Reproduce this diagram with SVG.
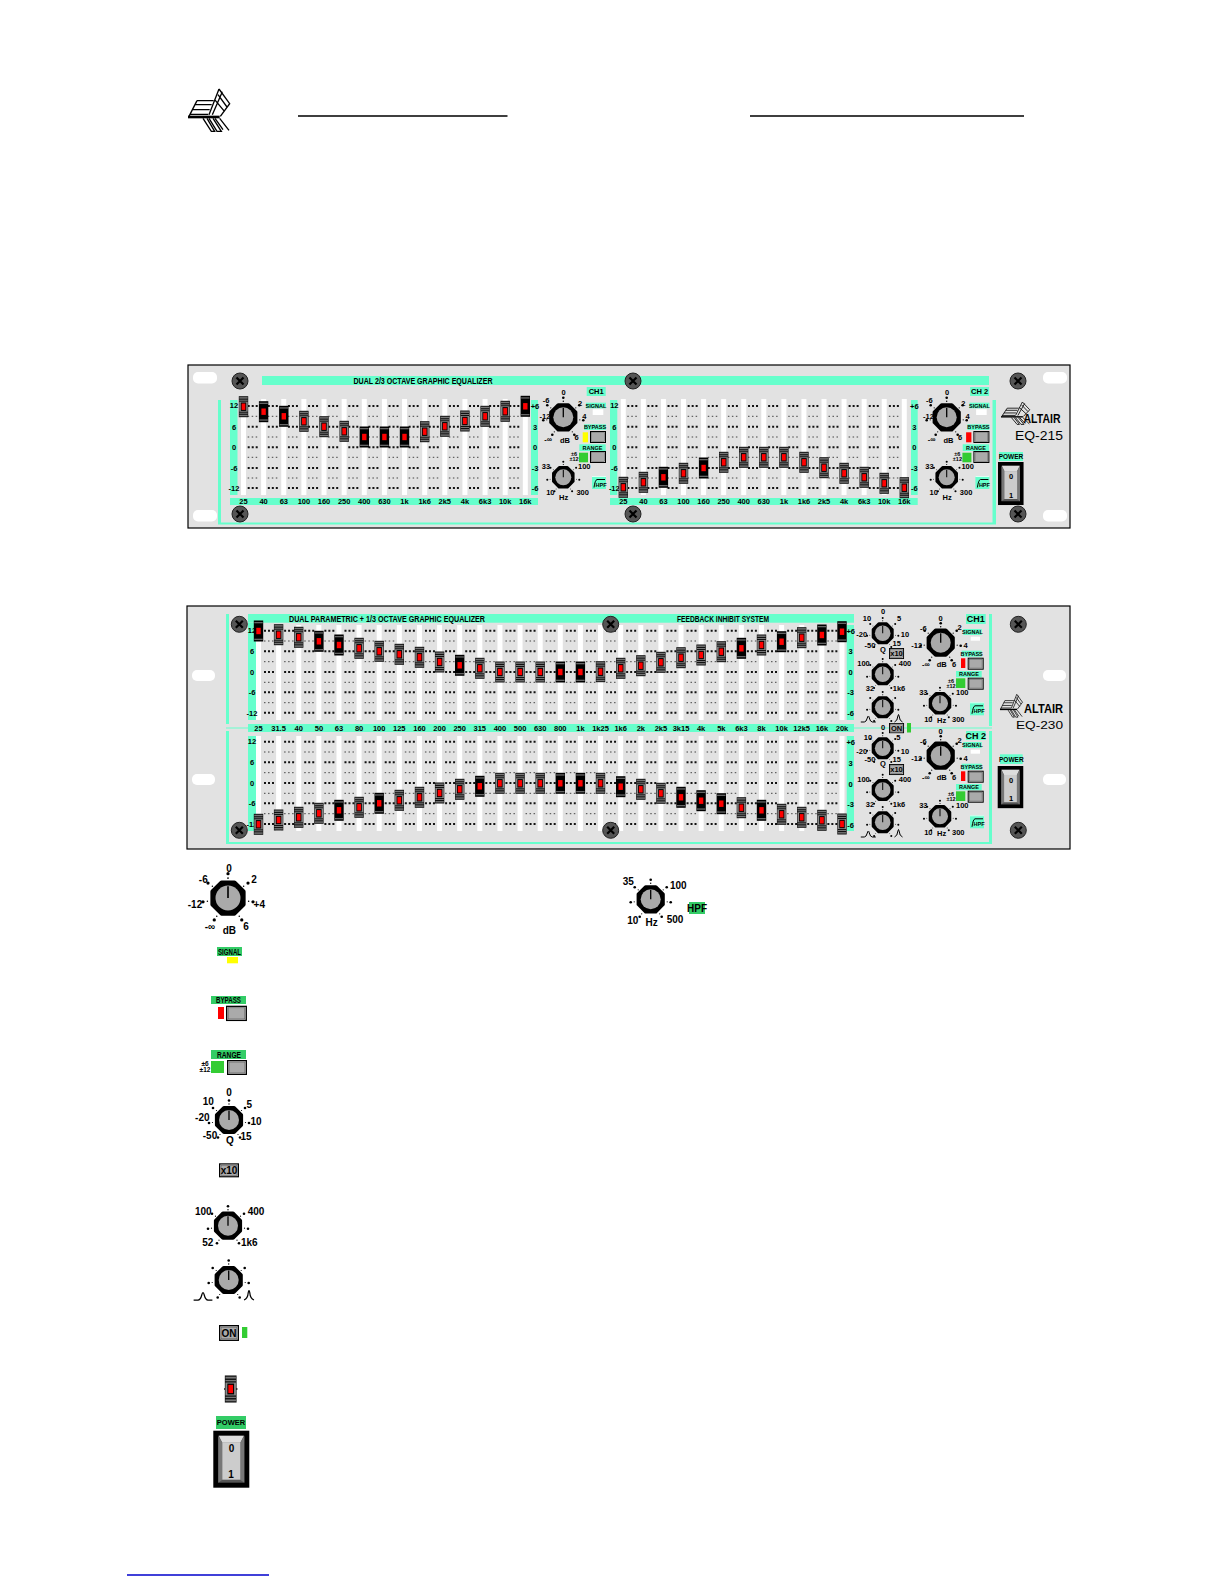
<svg xmlns="http://www.w3.org/2000/svg" width="1225" height="1585" viewBox="0 0 1225 1585">
<style>
text{font-family:"Liberation Sans Narrow","Liberation Sans",Arial,sans-serif;font-weight:700;fill:#000;text-anchor:middle;dominant-baseline:central}
.a{font-size:7.5px}
.b{font-size:10px}
.m{font-size:6.5px}
.x{font-size:5.5px}
.l{fill:#6fc}
.n{fill:#3c6}
.p{fill:#e2e2e2;stroke:#000;stroke-width:1.2}
.h{fill:#fff}
.slot{stroke:#fff;fill:none}
.d1{stroke:#111;stroke-width:2;stroke-dasharray:2 2 2 2 2 10.12;fill:none}
.d2{stroke:#444;stroke-width:1;stroke-dasharray:1.5 2.5 1.5 2.5 1.5 10.62;fill:none}
.bi{fill:none;stroke:#000;stroke-width:1}
.rule{stroke:#000;stroke-width:1.5}
.logo{fill:none;stroke:#000;stroke-width:4}
</style>
<defs>
<g id="s"><rect x="-4.7" y="-10.5" width="9.4" height="21" fill="#000"/><rect x="-4.2" y="-9" width="8.4" height="1.3" fill="#666"/><rect x="-4.2" y="7.7" width="8.4" height="1.3" fill="#666"/><rect x="-2.2" y="-3.2" width="4.4" height="6.4" fill="#f00"/></g>
<g id="g"><rect x="-4.7" y="-10.5" width="9.4" height="21" fill="#111"/><rect x="-4.2" y="-9.5" width="8.4" height="1.4" fill="#777"/><rect x="-4.2" y="-7" width="8.4" height="1" fill="#777"/><rect x="-4.2" y="6" width="8.4" height="1" fill="#777"/><rect x="-4.2" y="8.1" width="8.4" height="1.4" fill="#777"/><rect x="-4.2" y="-5" width="8.4" height="10" fill="#888"/><rect x="-2.7" y="-4.2" width="5.4" height="8.4" fill="#000"/><rect x="-1.9" y="-3.2" width="3.8" height="6.4" fill="#f00"/></g>
<g id="k"><polygon points="12.4,5.1 5.1,12.4 -5.1,12.4 -12.4,5.1 -12.4,-5.1 -5.1,-12.4 5.1,-12.4 12.4,-5.1" fill="#000" stroke="#000" stroke-width="3.4" stroke-linejoin="round"/><circle r="10" fill="#aaa"/><path d="M0 0V-9.5" stroke="#000" stroke-width="1.3"/><g fill="#000"><circle cy="-19.5" r="1.3"/><circle cy="-16" r=".7"/><circle cx="-16" cy="-12" r="1.3"/><circle cx="16" cy="-12" r="1.3"/><circle cx="-12.5" cy="-9.5" r=".6"/><circle cx="12.5" cy="-9.5" r=".6"/><circle cx="-20" cy="3" r="1.3"/><circle cx="20" cy="3" r="1.3"/><circle cx="-16.5" cy="2.5" r=".6"/><circle cx="16.5" cy="2.5" r=".6"/><circle cx="-11" cy="17.5" r="1.3"/><circle cx="11" cy="17.5" r="1.3"/><circle cx="-9" cy="14.5" r=".6"/><circle cx="9" cy="14.5" r=".6"/></g></g>
<g id="sc"><circle r="8" fill="#555" stroke="#222"/><path d="M-3.5 -3.5L3.5 3.5M3.5 -3.5L-3.5 3.5" stroke="#000" stroke-width="2.2"/></g>
<g id="btn"><rect width="16" height="12" fill="#000"/><rect x="1" y="1" width="14" height="10" fill="#ddd"/><rect x="1.6" y="1.6" width="12.8" height="8.8" fill="#aaa" stroke="#555" stroke-width=".5"/></g>
<g id="sw"><rect width="36" height="57" fill="#000"/><rect x="5" y="5" width="26" height="47" fill="#555"/><polygon points="5.5,5 30.5,5 27,12 9,12" fill="#ddd"/><polygon points="5,5.5 9,12 9,49 5,52" fill="#777"/><polygon points="31,5.5 27,12 27,49 31,52" fill="#777"/><rect x="9" y="12" width="18" height="37" fill="#ccc"/></g>
<g id="bw"><path class="bi" d="M-7.5 4H-4Q-2 4 -1 0Q0 -4 1 0Q2 4 4 4H7.5"/></g>
<g id="bn"><path class="bi" d="M-4 4Q-1 3 -.6 -2Q0 -5 .6 -2Q1 3 4 4"/></g>
<g id="f"><rect width="14" height="13" class="l"/><path d="M0 .5H14" stroke="#fff" stroke-width=".8"/><path class="bi" d="M2 11.5Q3 4 5 3.5H13"/></g>
<g id="lg" transform="scale(.3333)"><g class="logo" transform="translate(-55 -28)"><path d="M55 112H150" stroke-width="8"/><path d="M82 63H132M76 75H126M68 90H120M60 104H116M82 63L58 110"/><path d="M148 28L118 105M158 36L128 105M148 28L180 72L152 110M135 60L165 96M145 45L172 82"/><path d="M100 116L125 155H135L112 116M118 116L142 155H155L130 116M136 116L160 150M150 116L178 152"/></g></g>
</defs>
<rect width="1225" height="1585" fill="#fff"/>
<g id="header">
<use href="#lg" x="188" y="89"/>
<path class="rule" d="M298 116H507.5M750 116H1024"/>
</g>

<g id="eq215">
<rect class="p" x="188" y="365" width="882" height="163"/>
<g class="h"><rect x="193" y="372" width="24" height="11.5" rx="5"/><rect x="193" y="510" width="24" height="11.5" rx="5"/><rect x="1043" y="372" width="24" height="11.5" rx="5"/><rect x="1043" y="510" width="24" height="11.5" rx="5"/></g>
<g class="l">
<rect x="262" y="376" width="727" height="9"/>
<rect x="218" y="400" width="3" height="124"/><rect x="218" y="522.5" width="778" height="2"/><rect x="992.5" y="400" width="3.5" height="124"/>
<rect x="230" y="400" width="7.5" height="95"/><rect x="230" y="498" width="308" height="7"/><rect x="531" y="400" width="7" height="95"/>
<rect x="610" y="400" width="7.3" height="95"/><rect x="610" y="498" width="307.7" height="7"/><rect x="911" y="400" width="6.7" height="95"/>
</g>
<path class="slot" stroke-width="96" stroke-dasharray="5 15.13" d="M241 447H530"/>
<path class="slot" stroke-width="96" stroke-dasharray="5 15.07" d="M620.8 447H907"/>
<path class="d1" d="M247.7 406H520M247.7 426.7H520M247.7 447.3H520M247.7 468H520M247.7 488H520M627.3 406H901M627.3 426.7H901M627.3 447.3H901M627.3 468H901M627.3 488H901"/>
<path class="d2" d="M247.7 416.3H520M247.7 437H520M247.7 457.3H520M247.7 478H520M627.3 416.3H901M627.3 437H901M627.3 457.3H901M627.3 478H901"/>
<text style="font-size:9px" x="423" y="381" textLength="139" lengthAdjust="spacingAndGlyphs">DUAL 2/3 OCTAVE GRAPHIC EQUALIZER</text>
<g id="eq215-scales">
<text class="a" x="234" y="405">12</text><text class="a" x="234" y="427">6</text><text class="a" x="234" y="447">0</text><text class="a" x="234" y="468">-6</text><text class="a" x="234" y="488">-12</text>
<text class="a" x="535" y="406">+6</text><text class="a" x="535" y="427">3</text><text class="a" x="535" y="447">0</text><text class="a" x="535" y="468">-3</text><text class="a" x="535" y="488">-6</text>
<text class="a" x="614.3" y="405">12</text><text class="a" x="614.3" y="427">6</text><text class="a" x="614.3" y="447">0</text><text class="a" x="614.3" y="468">-6</text><text class="a" x="614.3" y="488">-12</text>
<text class="a" x="914.3" y="406">+6</text><text class="a" x="914.3" y="427">3</text><text class="a" x="914.3" y="447">0</text><text class="a" x="914.3" y="468">-3</text><text class="a" x="914.3" y="488">-6</text>
<text class="a" x="243.5" y="501.7">25</text><text class="a" x="263.6" y="501.7">40</text><text class="a" x="283.8" y="501.7">63</text><text class="a" x="303.9" y="501.7">100</text><text class="a" x="324" y="501.7">160</text><text class="a" x="344.2" y="501.7">250</text><text class="a" x="364.3" y="501.7">400</text><text class="a" x="384.4" y="501.7">630</text><text class="a" x="404.5" y="501.7">1k</text><text class="a" x="424.7" y="501.7">1k6</text><text class="a" x="444.8" y="501.7">2k5</text><text class="a" x="464.9" y="501.7">4k</text><text class="a" x="485.1" y="501.7">6k3</text><text class="a" x="505.2" y="501.7">10k</text><text class="a" x="525.3" y="501.7">16k</text>
<text class="a" x="623.3" y="501.7">25</text><text class="a" x="643.4" y="501.7">40</text><text class="a" x="663.4" y="501.7">63</text><text class="a" x="683.5" y="501.7">100</text><text class="a" x="703.6" y="501.7">160</text><text class="a" x="723.7" y="501.7">250</text><text class="a" x="743.7" y="501.7">400</text><text class="a" x="763.8" y="501.7">630</text><text class="a" x="783.9" y="501.7">1k</text><text class="a" x="804" y="501.7">1k6</text><text class="a" x="824" y="501.7">2k5</text><text class="a" x="844.1" y="501.7">4k</text><text class="a" x="864.2" y="501.7">6k3</text><text class="a" x="884.2" y="501.7">10k</text><text class="a" x="904.3" y="501.7">16k</text>
</g>
<g id="eq215-sliders">
<use href="#g" x="243.5" y="406.7"/><use href="#s" x="263.6" y="411.7"/><use href="#s" x="283.8" y="416.3"/><use href="#g" x="303.9" y="421.3"/><use href="#g" x="324" y="426.7"/><use href="#g" x="344.2" y="431.3"/><use href="#s" x="364.3" y="437"/><use href="#s" x="384.4" y="437"/><use href="#s" x="404.5" y="437"/><use href="#g" x="424.7" y="431.7"/><use href="#g" x="444.8" y="426.3"/><use href="#g" x="464.9" y="421"/><use href="#g" x="485.1" y="416.3"/><use href="#g" x="505.2" y="411.3"/><use href="#s" x="525.3" y="406.3"/>
<use href="#g" x="623.3" y="487.3"/><use href="#g" x="643.4" y="482.3"/><use href="#s" x="663.4" y="477.3"/><use href="#g" x="683.5" y="473.3"/><use href="#s" x="703.6" y="468"/><use href="#g" x="723.7" y="462.3"/><use href="#g" x="743.7" y="457.3"/><use href="#g" x="763.8" y="457.3"/><use href="#g" x="783.9" y="457.3"/><use href="#g" x="804" y="462.3"/><use href="#g" x="824" y="467.7"/><use href="#g" x="844.1" y="473.3"/><use href="#g" x="864.2" y="477.3"/><use href="#g" x="884.2" y="483.3"/><use href="#g" x="904.3" y="487.7"/>
</g>
<g id="eq215-screws"><use href="#sc" x="240" y="381"/><use href="#sc" x="240" y="514"/><use href="#sc" x="633" y="381"/><use href="#sc" x="633" y="514"/><use href="#sc" x="1018" y="381"/><use href="#sc" x="1018" y="514"/></g>
<g id="eq215-ch1">
<use href="#k" transform="translate(563.3 417.3)"/><use href="#k" transform="translate(563.3 477.3) scale(.8)"/>
<text class="a" x="563.7" y="392">0</text><text class="a" x="546" y="400">-6</text><text class="a" x="580" y="403">2</text><text class="a" x="545" y="416">-12</text><text class="a" x="584.3" y="416">4</text><text class="a" x="548.3" y="439">-∞</text><text class="a" x="565" y="440">dB</text><text class="a" x="576.7" y="437.7">6</text>
<text class="a" x="546" y="466.7">33</text><text class="a" x="584.3" y="466.7">100</text><text class="a" x="550.3" y="492.3">10</text><text class="a" x="563.7" y="497.7">Hz</text><text class="a" x="582.7" y="492.3">300</text>
<rect class="l" x="586.7" y="387" width="19" height="9"/><text class="a" x="596.2" y="391.5">CH1</text>
<rect class="l" x="586" y="402.7" width="20" height="5.6"/><text class="x" x="596" y="405.5">SIGNAL</text><rect class="h" x="592.7" y="409.3" width="10.6" height="5.7"/>
<rect class="l" x="584" y="424.3" width="22" height="5.7"/><text class="x" x="595" y="427.2">BYPASS</text><rect x="582.7" y="432.3" width="5.3" height="10" fill="#ff0"/><use href="#btn" x="590" y="431"/>
<rect class="l" x="579.3" y="444.3" width="26.4" height="6.7"/><text class="x" x="592.5" y="447.6">RANGE</text><rect x="579" y="452.7" width="9" height="9.6" fill="#3c3"/><use href="#btn" x="590" y="451"/>
<text class="x" x="574" y="454">±6</text><text class="x" x="574" y="459">±12</text>
<use href="#f" x="592" y="476"/><text class="x" x="601" y="485">HPF</text>
</g>
<g id="eq215-ch2" transform="translate(383.4 0)">
<use href="#k" transform="translate(563.3 417.3)"/><use href="#k" transform="translate(563.3 477.3) scale(.8)"/>
<text class="a" x="563.7" y="392">0</text><text class="a" x="546" y="400">-6</text><text class="a" x="580" y="403">2</text><text class="a" x="545" y="416">-12</text><text class="a" x="584.3" y="416">4</text><text class="a" x="548.3" y="439">-∞</text><text class="a" x="565" y="440">dB</text><text class="a" x="576.7" y="437.7">6</text>
<text class="a" x="546" y="466.7">33</text><text class="a" x="584.3" y="466.7">100</text><text class="a" x="550.3" y="492.3">10</text><text class="a" x="563.7" y="497.7">Hz</text><text class="a" x="582.7" y="492.3">300</text>
<rect class="l" x="586.7" y="387" width="19" height="9"/><text class="a" x="596.2" y="391.5">CH 2</text>
<rect class="l" x="586" y="402.7" width="20" height="5.6"/><text class="x" x="596" y="405.5">SIGNAL</text><rect class="h" x="592.7" y="409.3" width="10.6" height="5.7"/>
<rect class="l" x="584" y="424.3" width="22" height="5.7"/><text class="x" x="595" y="427.2">BYPASS</text><rect x="582.7" y="432.3" width="5.3" height="10" fill="#f00"/><use href="#btn" x="590" y="431"/>
<rect class="l" x="579.3" y="444.3" width="26.4" height="6.7"/><text class="x" x="592.5" y="447.6">RANGE</text><rect x="579" y="452.7" width="9" height="9.6" fill="#3c3"/><use href="#btn" x="590" y="451"/>
<text class="x" x="574" y="454">±6</text><text class="x" x="574" y="459">±12</text>
<use href="#f" x="592" y="476"/><text class="x" x="601" y="485">HPF</text>
</g>
<g id="eq215-brand">
<use href="#lg" transform="translate(1001 402) scale(.69 .53)"/>
<text x="1042" y="419" style="font-size:12px;font-family:'Liberation Sans',sans-serif" textLength="37" lengthAdjust="spacingAndGlyphs">ALTAIR</text>
<text x="1039" y="435.5" style="font-size:13px;font-weight:400;font-family:'Liberation Sans',sans-serif" textLength="48" lengthAdjust="spacingAndGlyphs">EQ-215</text>
<rect class="l" x="999" y="452" width="24" height="9"/><text class="m" x="1011" y="456.5">POWER</text>
<use href="#sw" transform="translate(998 462) scale(.71 .755)"/><text class="a" x="1011" y="476">0</text><text class="a" x="1011" y="495">1</text>
</g>
</g>

<g id="eq230">
<rect class="p" x="187" y="606" width="883" height="243"/>
<g class="h"><rect x="192" y="670" width="23" height="11" rx="5"/><rect x="192" y="774" width="23" height="11" rx="5"/><rect x="1043" y="670" width="23" height="11" rx="5"/><rect x="1043" y="774" width="23" height="11" rx="5"/></g>
<g class="l">
<rect x="226" y="614" width="3" height="110"/><rect x="226" y="731" width="3" height="113"/><rect x="226" y="842" width="766" height="2"/><rect x="989" y="614" width="3" height="112"/><rect x="989" y="731" width="3" height="113"/>
<rect x="226" y="727.5" width="766" height="1"/>
<rect x="248" y="614" width="606" height="8.7"/><rect x="248" y="623" width="8" height="97"/><rect x="248" y="736" width="8" height="95"/><rect x="248" y="724" width="606" height="8"/><rect x="846.7" y="625" width="7.3" height="95"/><rect x="846.7" y="736" width="7.3" height="95"/>
</g>
<path class="slot" stroke-width="95" stroke-dasharray="5 15.12" d="M256 672.5H845M256 783.5H845"/>
<path class="d1" d="M264 630.7H839M264 651.3H839M264 672H839M264 692.3H839M264 712.7H839M264 741.7H839M264 762.3H839M264 783H839M264 803.3H839M264 824H839"/>
<path class="d2" d="M264 641H839M264 661.7H839M264 682.3H839M264 702.7H839M264 752H839M264 772.7H839M264 793.3H839M264 813.7H839"/>
<text style="font-size:9px" x="387" y="618.5" textLength="196" lengthAdjust="spacingAndGlyphs">DUAL PARAMETRIC + 1/3 OCTAVE GRAPHIC EQUALIZER</text>
<text style="font-size:9px" x="723" y="618.5" textLength="92" lengthAdjust="spacingAndGlyphs">FEEDBACK INHIBIT SYSTEM</text>
<g id="eq230-scales">
<text class="a" x="252" y="630">12</text><text class="a" x="252" y="651">6</text><text class="a" x="252" y="672">0</text><text class="a" x="252" y="692">-6</text><text class="a" x="252" y="713">-12</text>
<text class="a" x="252" y="741">12</text><text class="a" x="252" y="762">6</text><text class="a" x="252" y="783">0</text><text class="a" x="252" y="803">-6</text><text class="a" x="252" y="824">-12</text>
<text class="a" x="850.7" y="631">+6</text><text class="a" x="850.7" y="651.5">3</text><text class="a" x="850.7" y="672">0</text><text class="a" x="850.7" y="692.5">-3</text><text class="a" x="850.7" y="713">-6</text>
<text class="a" x="850.7" y="742">+6</text><text class="a" x="850.7" y="763">3</text><text class="a" x="850.7" y="784">0</text><text class="a" x="850.7" y="804">-3</text><text class="a" x="850.7" y="825">-6</text>
</g>
<g id="eq230-freqs">
<text class="a" x="258.5" y="728">25</text><text class="a" x="278.6" y="728">31.5</text><text class="a" x="298.7" y="728">40</text><text class="a" x="318.9" y="728">50</text><text class="a" x="339" y="728">63</text><text class="a" x="359.1" y="728">80</text><text class="a" x="379.2" y="728">100</text><text class="a" x="399.3" y="728">125</text><text class="a" x="419.5" y="728">160</text><text class="a" x="439.6" y="728">200</text><text class="a" x="459.7" y="728">250</text><text class="a" x="479.8" y="728">315</text><text class="a" x="499.9" y="728">400</text><text class="a" x="520.1" y="728">500</text><text class="a" x="540.2" y="728">630</text><text class="a" x="560.3" y="728">800</text><text class="a" x="580.4" y="728">1k</text><text class="a" x="600.5" y="728">1k25</text><text class="a" x="620.7" y="728">1k6</text><text class="a" x="640.8" y="728">2k</text><text class="a" x="660.9" y="728">2k5</text><text class="a" x="681" y="728">3k15</text><text class="a" x="701.1" y="728">4k</text><text class="a" x="721.3" y="728">5k</text><text class="a" x="741.4" y="728">6k3</text><text class="a" x="761.5" y="728">8k</text><text class="a" x="781.6" y="728">10k</text><text class="a" x="801.7" y="728">12k5</text><text class="a" x="821.9" y="728">16k</text><text class="a" x="842" y="728">20k</text>
</g>
<g id="eq230-sliders-upper">
<use href="#s" x="258.5" y="631"/><use href="#g" x="278.6" y="634.7"/><use href="#g" x="298.7" y="637.3"/><use href="#s" x="318.9" y="641.3"/><use href="#s" x="339" y="645"/><use href="#g" x="359.1" y="648.3"/><use href="#g" x="379.2" y="651.3"/><use href="#g" x="399.3" y="654.3"/><use href="#g" x="419.5" y="657.3"/><use href="#g" x="439.6" y="662"/><use href="#s" x="459.7" y="665.3"/><use href="#g" x="479.8" y="668.3"/><use href="#g" x="499.9" y="672"/><use href="#g" x="520.1" y="672"/><use href="#g" x="540.2" y="672"/><use href="#s" x="560.3" y="672"/><use href="#s" x="580.4" y="672"/><use href="#g" x="600.5" y="671.7"/><use href="#g" x="620.7" y="668.3"/><use href="#g" x="640.8" y="665.7"/><use href="#g" x="660.9" y="662.3"/><use href="#g" x="681" y="657.7"/><use href="#g" x="701.1" y="655"/><use href="#g" x="721.3" y="651.7"/><use href="#s" x="741.4" y="648.3"/><use href="#g" x="761.5" y="645"/><use href="#s" x="781.6" y="641.7"/><use href="#g" x="801.7" y="637.7"/><use href="#s" x="821.9" y="635"/><use href="#s" x="842" y="631.7"/>
</g>
<g id="eq230-sliders-lower">
<use href="#g" x="258.5" y="824.3"/><use href="#g" x="278.6" y="820"/><use href="#g" x="298.7" y="817.3"/><use href="#g" x="318.9" y="813.3"/><use href="#s" x="339" y="810.3"/><use href="#g" x="359.1" y="807.3"/><use href="#s" x="379.2" y="803.3"/><use href="#g" x="399.3" y="800.3"/><use href="#g" x="419.5" y="797.3"/><use href="#g" x="439.6" y="793"/><use href="#g" x="459.7" y="789.3"/><use href="#s" x="479.8" y="786.3"/><use href="#g" x="499.9" y="783.3"/><use href="#g" x="520.1" y="783.3"/><use href="#g" x="540.2" y="783.3"/><use href="#s" x="560.3" y="783.3"/><use href="#s" x="580.4" y="783.3"/><use href="#g" x="600.5" y="783.3"/><use href="#s" x="620.7" y="786.7"/><use href="#g" x="640.8" y="789.3"/><use href="#g" x="660.9" y="793.3"/><use href="#s" x="681" y="797.3"/><use href="#s" x="701.1" y="800.7"/><use href="#s" x="721.3" y="803.7"/><use href="#g" x="741.4" y="807.7"/><use href="#s" x="761.5" y="810.3"/><use href="#g" x="781.6" y="814.3"/><use href="#g" x="801.7" y="817.3"/><use href="#g" x="821.9" y="820.3"/><use href="#g" x="842" y="824"/>
</g>
<g id="eq230-screws"><use href="#sc" x="239.3" y="624.3"/><use href="#sc" x="239.3" y="830.3"/><use href="#sc" x="610.7" y="624.3"/><use href="#sc" x="610.7" y="830.3"/><use href="#sc" x="1018.3" y="624.3"/><use href="#sc" x="1018.3" y="830.3"/></g>
<g id="eq230-para1">
<use href="#k" transform="translate(882.7 633.3) scale(.78)"/><use href="#k" transform="translate(882.7 674.3) scale(.78)"/><use href="#k" transform="translate(882.7 707.3) scale(.78)"/>
<text class="a" x="883" y="611">0</text><text class="a" x="867" y="618.5">10</text><text class="a" x="861.7" y="634.5">-20</text><text class="a" x="870" y="645">-50</text><text class="a" x="899" y="618.5">5</text><text class="a" x="905" y="634.5">10</text><text class="a" x="896.7" y="643.5">15</text><text class="a" x="883" y="649">Q</text>
<use href="#btn" transform="translate(889 648) scale(.94 .92)"/><text class="a" x="896.5" y="653.5">x10</text>
<text class="a" x="863.5" y="663.5">100</text><text class="a" x="905" y="663.5">400</text><text class="a" x="870" y="688.5">32</text><text class="a" x="899" y="688.5">1k6</text>
<use href="#bw" transform="translate(868.3 718)"/><use href="#bn" transform="translate(898.5 718)"/>
</g>
<g id="eq230-on"><use href="#btn" transform="translate(889 723) scale(.94 .85)"/><text class="a" x="896.5" y="728">ON</text><rect x="907" y="723" width="4" height="9.5" fill="#3c3"/></g>
<g id="eq230-para2">
<use href="#k" transform="translate(882.7 748.3) scale(.78)"/><use href="#k" transform="translate(882.7 790) scale(.78)"/><use href="#k" transform="translate(882.7 822.3) scale(.78)"/>
<text class="a" x="883" y="727">0</text><text class="a" x="868" y="737.7">10</text><text class="a" x="861.7" y="751">-20</text><text class="a" x="870" y="759.3">-50</text><text class="a" x="898.3" y="737.7">5</text><text class="a" x="905" y="751">10</text><text class="a" x="896.7" y="759.3">15</text><text class="a" x="883" y="763.3">Q</text>
<use href="#btn" transform="translate(889 764) scale(.94 .92)"/><text class="a" x="896.5" y="769.5">x10</text>
<text class="a" x="863.5" y="779">100</text><text class="a" x="905" y="779">400</text><text class="a" x="870" y="804.3">32</text><text class="a" x="899" y="804.3">1k6</text>
<use href="#bw" transform="translate(868.3 833)"/><use href="#bn" transform="translate(898.5 833)"/>
</g>
<g id="eq230-ch1">
<use href="#k" transform="translate(940.7 642.7)"/><use href="#k" transform="translate(940 703.3) scale(.8)"/>
<text class="a" x="940.7" y="618.5">0</text><text class="a" x="923.3" y="628.5">-6</text><text class="a" x="959.5" y="627.5">2</text><text class="a" x="916.7" y="645.7">-12</text><text class="a" x="965.7" y="645.7">4</text><text class="a" x="926" y="664">-∞</text><text class="a" x="941.7" y="664.3">dB</text><text class="a" x="954" y="664">6</text>
<text class="a" x="923.3" y="692.7">33</text><text class="a" x="962.3" y="692.7">100</text><text class="a" x="928.3" y="719.3">10</text><text class="a" x="941.7" y="720">Hz</text><text class="a" x="958.3" y="719.3">300</text>
<rect class="l" x="966" y="614" width="19.7" height="10"/><text style="font-size:9px" x="975.8" y="619">CH1</text>
<rect class="l" x="963.3" y="629" width="18.4" height="6"/><text class="x" x="972.5" y="632">SIGNAL</text><rect class="h" x="970.7" y="636.7" width="9.3" height="4"/>
<rect class="l" x="961.7" y="650.7" width="20" height="6"/><text class="x" x="971.7" y="653.7">BYPASS</text><rect x="961" y="658.3" width="4.3" height="9.7" fill="#f00"/><use href="#btn" transform="translate(967.7 657.7)"/>
<rect class="l" x="956" y="671" width="25.7" height="6.3"/><text class="x" x="969" y="674">RANGE</text><rect x="956" y="678.3" width="9.3" height="9.7" fill="#3c3"/><use href="#btn" transform="translate(967.7 677.7)"/>
<text class="x" x="951" y="681">±6</text><text class="x" x="951" y="686">±12</text>
<use href="#f" transform="translate(970 702.3)"/><text class="x" x="979" y="711">HPF</text>
</g>
<g id="eq230-ch2" transform="translate(0 113)">
<use href="#k" transform="translate(940.7 642.7)"/><use href="#k" transform="translate(940 703.3) scale(.8)"/>
<text class="a" x="940.7" y="618.5">0</text><text class="a" x="923.3" y="628.5">-6</text><text class="a" x="959.5" y="627.5">2</text><text class="a" x="916.7" y="645.7">-12</text><text class="a" x="965.7" y="645.7">4</text><text class="a" x="926" y="664">-∞</text><text class="a" x="941.7" y="664.3">dB</text><text class="a" x="954" y="664">6</text>
<text class="a" x="923.3" y="692.7">33</text><text class="a" x="962.3" y="692.7">100</text><text class="a" x="928.3" y="719.3">10</text><text class="a" x="941.7" y="720">Hz</text><text class="a" x="958.3" y="719.3">300</text>
<rect class="l" x="966" y="618" width="19.7" height="9"/><text style="font-size:9px" x="975.8" y="622.5">CH 2</text>
<rect class="l" x="963.3" y="629" width="18.4" height="6"/><text class="x" x="972.5" y="632">SIGNAL</text><rect class="h" x="970.7" y="636.7" width="9.3" height="4"/>
<rect class="l" x="961.7" y="650.7" width="20" height="6"/><text class="x" x="971.7" y="653.7">BYPASS</text><rect x="961" y="658.3" width="4.3" height="9.7" fill="#f00"/><use href="#btn" transform="translate(967.7 657.7)"/>
<rect class="l" x="956" y="671" width="25.7" height="6.3"/><text class="x" x="969" y="674">RANGE</text><rect x="956" y="678.3" width="9.3" height="9.7" fill="#3c3"/><use href="#btn" transform="translate(967.7 677.7)"/>
<text class="x" x="951" y="681">±6</text><text class="x" x="951" y="686">±12</text>
<use href="#f" transform="translate(970 702.3)"/><text class="x" x="979" y="711">HPF</text>
</g>
<g id="eq230-brand">
<use href="#lg" transform="translate(1000 694.3) scale(.54 .54)"/>
<text x="1043.5" y="709" style="font-size:12px;font-family:'Liberation Sans',sans-serif" textLength="39" lengthAdjust="spacingAndGlyphs">ALTAIR</text>
<text x="1039.5" y="725" style="font-size:10px;font-weight:400;font-family:'Liberation Sans',sans-serif" textLength="47" lengthAdjust="spacingAndGlyphs">EQ-230</text>
<rect class="l" x="1000" y="754.3" width="22.7" height="9.7"/><text class="m" x="1011.3" y="759">POWER</text>
<use href="#sw" transform="translate(997.7 766) scale(.71 .74)"/><text class="a" x="1011" y="780">0</text><text class="a" x="1011" y="798">1</text>
</g>
</g>

<g id="legend">
<g id="lg-gain"><use href="#k" transform="translate(228 898) scale(1.25)"/>
<text class="b" x="229" y="868">0</text><text class="b" x="203.3" y="879.3">-6</text><text class="b" x="254" y="879">2</text><text class="b" x="195" y="904">-12</text><text class="b" x="259.3" y="904">+4</text><text class="b" x="210" y="926.7">-∞</text><text class="b" x="229.3" y="930">dB</text><text class="b" x="246" y="926.7">6</text></g>
<g id="lg-hpf"><use href="#k" transform="translate(650.7 899.3)"/>
<text class="b" x="628.3" y="881">35</text><text class="b" x="678.3" y="885.7">100</text><text class="b" x="632.7" y="920">10</text><text class="b" x="651.7" y="922.7">Hz</text><text class="b" x="675" y="919">500</text>
<rect class="n" x="689" y="902" width="16" height="12"/><text class="b" x="697" y="908">HPF</text></g>
<g id="lg-signal"><rect class="n" x="217" y="947" width="25" height="9"/><text style="font-size:8.5px" x="229.5" y="951.5" textLength="23" lengthAdjust="spacingAndGlyphs">SIGNAL</text><rect x="227" y="957" width="11" height="6.3" fill="#ff0"/></g>
<g id="lg-bypass"><rect class="n" x="211" y="996" width="35" height="8"/><text style="font-size:8.5px" x="228.5" y="1000" textLength="25" lengthAdjust="spacingAndGlyphs">BYPASS</text><rect x="218" y="1007" width="6" height="12" fill="#f00"/><use href="#btn" transform="translate(226 1005.7) scale(1.31 1.28)"/></g>
<g id="lg-range"><rect class="n" x="211" y="1050" width="35" height="9"/><text style="font-size:8.5px" x="229" y="1054.5" textLength="24" lengthAdjust="spacingAndGlyphs">RANGE</text><rect x="211" y="1061" width="13" height="12" fill="#3c3"/><use href="#btn" transform="translate(227 1060) scale(1.25)"/><text class="m" x="205" y="1063">±6</text><text class="m" x="205" y="1069">±12</text></g>
<g id="lg-q"><use href="#k" transform="translate(229 1120)"/>
<text class="b" x="229" y="1092.7">0</text><text class="b" x="208.3" y="1101.7">10</text><text class="b" x="249.3" y="1104">5</text><text class="b" x="202.3" y="1117.7">-20</text><text class="b" x="256" y="1121">10</text><text class="b" x="210" y="1135.7">-50</text><text class="b" x="230" y="1140">Q</text><text class="b" x="246" y="1136.7">15</text></g>
<g id="lg-x10"><use href="#btn" transform="translate(219 1163.3) scale(1.25 1.17)"/><text class="b" x="229" y="1170.3">x10</text></g>
<g id="lg-freq"><use href="#k" transform="translate(228 1225.7)"/>
<text class="b" x="203.3" y="1211">100</text><text class="b" x="256" y="1211">400</text><text class="b" x="207.7" y="1242">52</text><text class="b" x="249.3" y="1242">1k6</text></g>
<g id="lg-bw"><use href="#k" transform="translate(228.7 1280)"/><use href="#bw" transform="translate(203 1295) scale(1.25)"/><use href="#bn" transform="translate(249 1295) scale(1.25)"/></g>
<g id="lg-on"><use href="#btn" transform="translate(219 1325) scale(1.25 1.33)"/><text class="b" x="229" y="1333">ON</text><rect x="242" y="1327" width="5.3" height="11" fill="#3c3"/></g>
<g id="lg-slider"><path d="M224 1389H237.5" stroke="#555" stroke-width="2"/><use href="#g" transform="translate(230.7 1389) scale(1.25 1.29)"/></g>
<g id="lg-power"><rect class="n" x="216" y="1416" width="30" height="13"/><text class="a" x="231" y="1422.5">POWER</text>
<use href="#sw" transform="translate(213.3 1430.7)"/><text class="b" x="231.5" y="1448">0</text><text class="b" x="231" y="1474">1</text></g>
</g>
<path d="M127 1575H269" stroke="#00c" stroke-width="1.6"/>
</svg>
